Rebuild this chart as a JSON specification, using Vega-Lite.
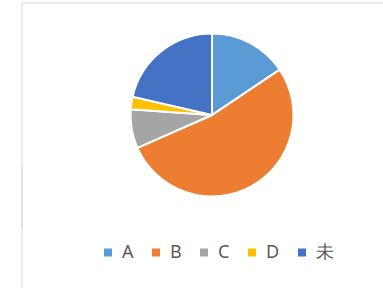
{
  "$schema": "https://vega.github.io/schema/vega-lite/v6.json",
  "width": 381,
  "height": 225,
  "autosize": "none",
  "padding": {"left": 21.5, "top": 2.5, "right": -19.5, "bottom": 60.5},
  "background": "white",
  "view": {"stroke": "#D9D9D9", "strokeWidth": 1, "strokeDash": [381, 606, 225, 0]},
  "config": {
    "legend": {"strokeDash": [0, 600, 2000], "strokeWidth": 1}
  },
  "data": {
    "values": [
      {"cat": "A", "value": 15.6, "ord": 1},
      {"cat": "B", "value": 52.8, "ord": 2},
      {"cat": "C", "value": 7.7, "ord": 3},
      {"cat": "D", "value": 2.5, "ord": 4},
      {"cat": "未", "value": 21.4, "ord": 5}
    ]
  },
  "mark": {"type": "arc", "outerRadius": 81.5, "stroke": "white", "strokeWidth": 2},
  "encoding": {
    "theta": {"field": "value", "type": "quantitative", "stack": true},
    "order": {"field": "ord", "type": "quantitative"},
    "color": {
      "field": "cat",
      "type": "nominal",
      "sort": ["A", "B", "C", "D", "未"],
      "scale": {"domain": ["A", "B", "C", "D", "未"], "range": ["#5B9BD5", "#ED7D31", "#A5A5A5", "#FFC000", "#4472C4"]},
      "legend": {
        "orient": "none",
        "legendX": 0,
        "legendY": 163.5,
        "direction": "horizontal",
        "title": null,
        "padding": 77.5,
        "strokeColor": "#D9D9D9",
        "symbolType": "square",
        "symbolSize": 64,
        "symbolStrokeWidth": 0,
        "labelFont": "Noto Sans",
        "labelFontSize": 18,
        "labelColor": "#595959",
        "labelOffset": 5,
        "columnPadding": 13,
        "encode": {
          "labels": {
            "update": {
              "font": {"signal": "datum.label === '未' ? 'Noto Sans CJK JP' : 'Noto Sans'"},
              "fontSize": {"signal": "datum.label === '未' ? 24 : 18"}
            }
          }
        }
      }
    }
  }
}
